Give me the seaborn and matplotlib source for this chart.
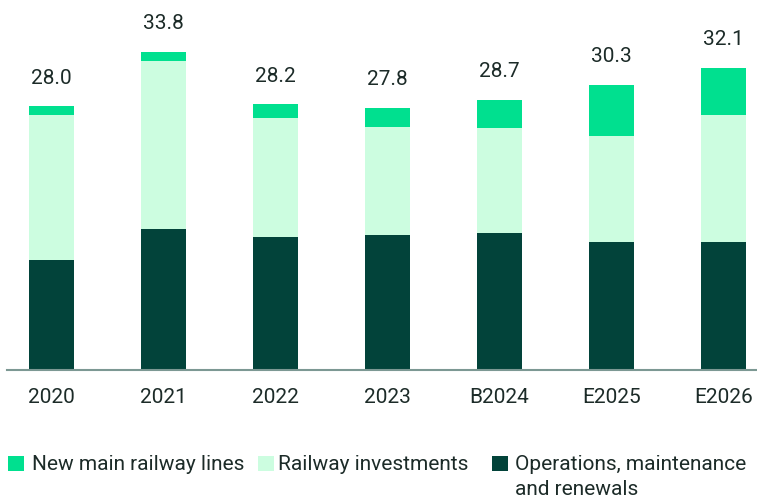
import matplotlib
matplotlib.use("Agg")
import matplotlib.pyplot as plt
from matplotlib.patches import Rectangle
import seaborn as sns
import pandas as pd
import numpy as np

years = ["2020", "2021", "2022", "2023", "B2024", "E2025", "E2026"]
operations = [11.7, 15.0, 14.1, 14.3, 14.5, 13.6, 13.6]
investments = [15.4, 17.8, 12.6, 11.5, 11.2, 11.2, 13.5]
new_lines = [0.9, 1.0, 1.5, 2.0, 3.0, 5.5, 5.0]
totals = [28.0, 33.8, 28.2, 27.8, 28.7, 30.3, 32.1]

series_names = ["New main railway lines", "Railway investments",
                "Operations, maintenance\nand renewals"]

C_DARK = "#02433a"
C_LIGHT = "#ccfde0"
C_BRIGHT = "#00e08f"
C_TEXT = "#1c2b28"
C_AXIS = "#7c9893"

sns.set_theme(style="white")
plt.rcParams["font.family"] = ["Roboto", "DejaVu Sans"]

df = pd.DataFrame({"year": years, "ops": operations,
                   "inv": investments, "new": new_lines})
ops_arr = np.array(operations)
inv_arr = np.array(investments)

fig = plt.figure(figsize=(7.57, 5.02), dpi=100)
ax = fig.add_axes([7 / 757, 131 / 502, 750 / 757, 371 / 502])

sns.barplot(data=df, x="year", y="ops", color=C_DARK, width=0.4,
            saturation=1, ax=ax, linewidth=0)
sns.barplot(data=df, x="year", y="inv", color=C_LIGHT, width=0.4,
            saturation=1, ax=ax, linewidth=0, bottom=ops_arr)
sns.barplot(data=df, x="year", y="new", color=C_BRIGHT, width=0.4,
            saturation=1, ax=ax, linewidth=0, bottom=ops_arr + inv_arr)

for i, t in enumerate(totals):
    ax.annotate(f"{t:.1f}", xy=(i, t), xytext=(0, 17), textcoords="offset points",
                ha="center", va="baseline", fontsize=15, color=C_TEXT)

ax.set_xlim(-0.397, 6.299)
ax.set_ylim(0, 39.38)
ax.set_xlabel("")
ax.set_ylabel("")
ax.set_yticks([])
ax.tick_params(axis="x", length=0, pad=12, labelsize=15, labelcolor=C_TEXT)
for side in ["top", "right", "left"]:
    ax.spines[side].set_visible(False)
ax.spines["bottom"].set_color(C_AXIS)
ax.spines["bottom"].set_linewidth(1.5)

# legend drawn in figure pixel coordinates
W, H = 757, 502
legend_items = [(8, 32, C_BRIGHT, series_names[0]),
                (258, 278, C_LIGHT, series_names[1]),
                (492, 515, C_DARK, series_names[2])]
for sx, tx, col, label in legend_items:
    fig.patches.append(Rectangle((sx / W, (H - 472) / H), 16 / W, 15 / H,
                                 transform=fig.transFigure, color=col, lw=0))
    fig.text(tx / W, (H - 464.5) / H, label.split("\n")[0], fontsize=15,
             color=C_TEXT, va="center", ha="left")
    if "\n" in label:
        fig.text(tx / W, (H - 489.5) / H, label.split("\n")[1], fontsize=15,
                 color=C_TEXT, va="center", ha="left")

fig.savefig("out.png", dpi=100)
